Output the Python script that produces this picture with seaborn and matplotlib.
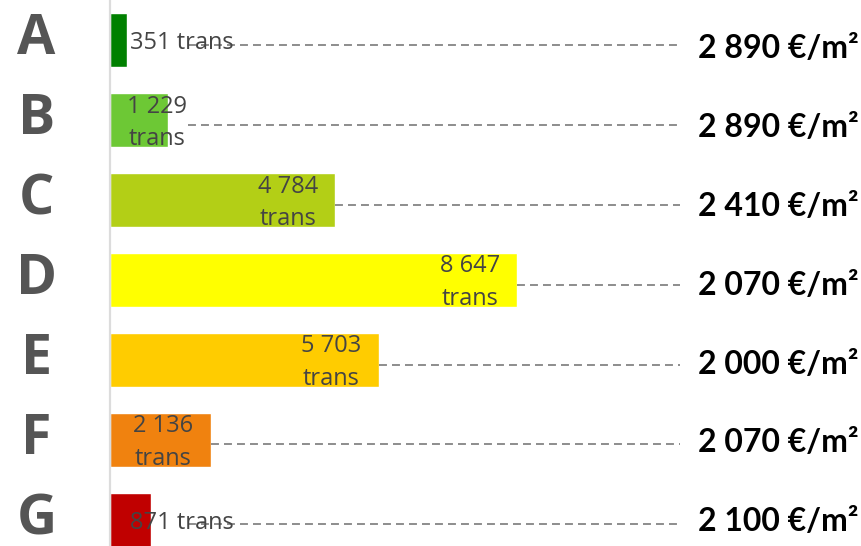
import matplotlib
matplotlib.use("Agg")
import matplotlib.pyplot as plt
import seaborn as sns
from matplotlib.transforms import offset_copy

# Energy class rows
classes = ["A", "B", "C", "D", "E", "F", "G"]
transactions = [351, 1229, 4784, 8647, 5703, 2136, 871]
price_per_m2 = [2890, 2890, 2410, 2070, 2000, 2070, 2100]
class_colors = ["#008000", "#6dc835", "#b3cf16", "#ffff00", "#ffcc00", "#f0820f", "#c00000"]


def fmt_thousands(v):
    return f"{v:,}".replace(",", " ")


sns.set_theme(style="white")
plt.rcParams["font.family"] = ["Open Sans", "DejaVu Sans"]

W, H = 861, 546
fig = plt.figure(figsize=(W / 100, H / 100), dpi=100)
ax = fig.add_axes([110 / W, 0.0, (680 - 110) / W, 1.0])

sns.barplot(x=transactions, y=classes, hue=classes, palette=class_colors,
            legend=False, orient="h", width=0.675, saturation=1.0, ax=ax)

xmax = max(transactions) * 1.4
ax.set_xlim(0, xmax)
ax.set_ylim(6.33, -0.5)

for s in ["top", "right", "bottom"]:
    ax.spines[s].set_visible(False)
ax.spines["left"].set_color("#dcdcdc")
ax.spines["left"].set_linewidth(1.6)
ax.set_xticks([])
ax.set_xlabel("")
ax.set_ylabel("")

# class letters as centred tick labels
ax.tick_params(axis="y", length=0, pad=53)
ax.set_yticks(range(len(classes)))
ax.set_yticklabels(classes, fontsize=40, fontweight="bold", color="#555555")
for lbl in ax.get_yticklabels():
    lbl.set_ha("center")
    lbl.set_va("center")

label_color = "#444444"
for i, (n, price) in enumerate(zip(transactions, price_per_m2)):
    # leader line from the bar to the price column
    start = max(n, 78 * xmax / 570)
    ax.plot([start, xmax], [i + 0.06, i + 0.06], color="#858585", lw=1.3,
            linestyle=(0, (4.4, 2.8)), zorder=1)

    if n < 1000:
        tr = offset_copy(ax.transData, fig=fig, x=20, y=-3, units="dots")
        ax.text(0, i, f"{fmt_thousands(n)} trans", transform=tr, ha="left",
                va="center", fontsize=17, color=label_color, zorder=3)
    elif n < 2000:
        tr = offset_copy(ax.transData, fig=fig, x=17, y=-3, units="dots")
        ax.text(0, i, f"{fmt_thousands(n)}\ntrans", transform=tr, ha="left",
                va="center", ma="center", fontsize=17, color=label_color,
                linespacing=1.48, zorder=3)
    else:
        tr = offset_copy(ax.transData, fig=fig, x=-17, y=-3, units="dots")
        ax.text(n, i, f"{fmt_thousands(n)}\ntrans", transform=tr, ha="right",
                va="center", ma="center", fontsize=17, color=label_color,
                linespacing=1.48, zorder=3)

    # price column, laid out on its own slightly tighter pitch
    y_px = 49 + i * 78.8
    fig.text(859 / W, 1 - y_px / H, f"{fmt_thousands(price)} €/m²",
             ha="right", va="center", fontsize=23, fontweight="bold",
             color="black", family=["Lato", "DejaVu Sans"])

fig.savefig("out.png", dpi=100)
